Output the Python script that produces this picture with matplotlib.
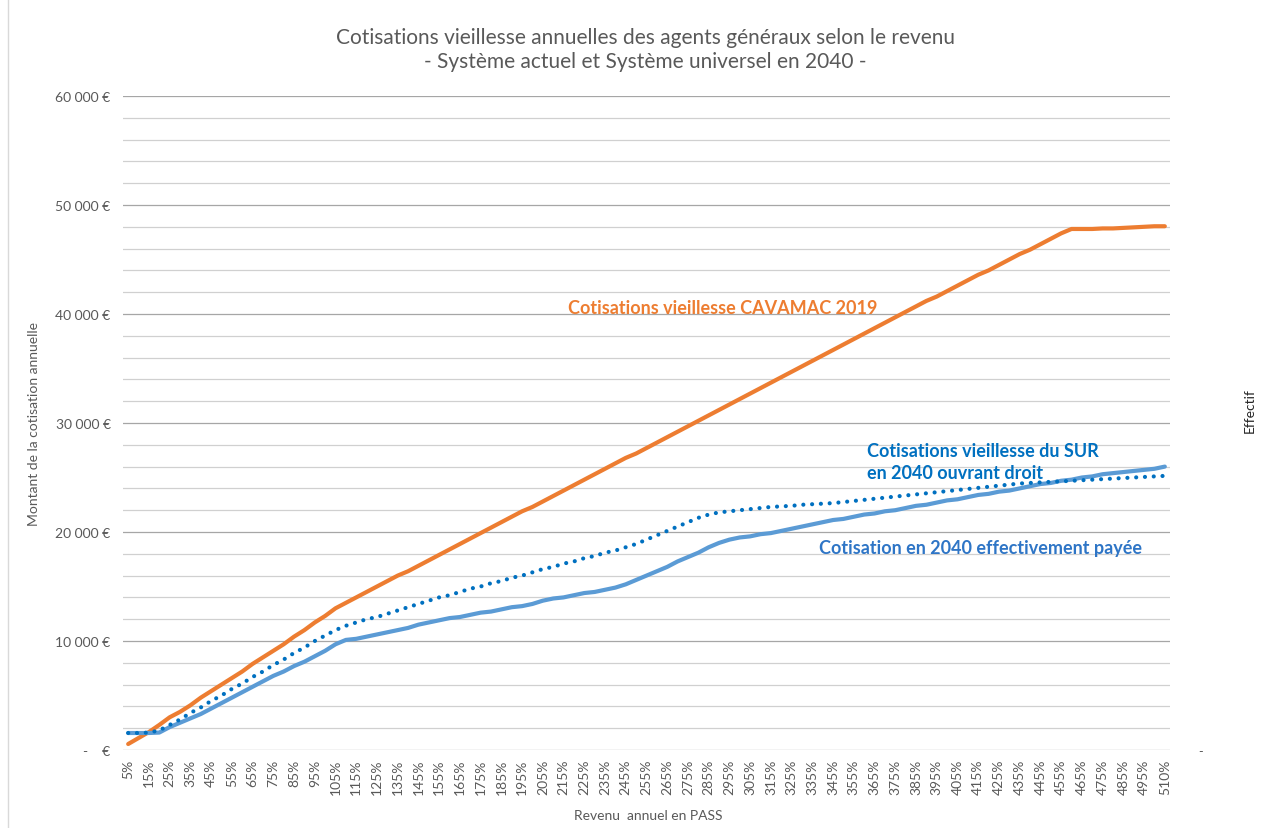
import numpy as np
import matplotlib.pyplot as plt
from matplotlib.ticker import MultipleLocator, FixedLocator

plt.rcParams['font.family'] = ['Lato', 'DejaVu Sans']

# Revenu annuel en % du PASS : 5 % .. 500 % par pas de 5, puis 510 %
revenu_pct = list(range(5, 505, 5)) + [510]

cavamac_2019 = [
    550, 1100, 1650, 2300, 3000, 3500, 4100, 4800, 5400, 6000,
    6600, 7200, 7900, 8500, 9100, 9700, 10400, 11000, 11700, 12300,
    13000, 13500, 14000, 14500, 15000, 15500, 16000, 16400, 16900, 17400,
    17900, 18400, 18900, 19400, 19900, 20400, 20900, 21400, 21900, 22300,
    22800, 23300, 23800, 24300, 24800, 25300, 25800, 26300, 26800, 27200,
    27700, 28200, 28700, 29200, 29700, 30200, 30700, 31200, 31700, 32200,
    32700, 33200, 33700, 34200, 34700, 35200, 35700, 36200, 36700, 37200,
    37700, 38200, 38700, 39200, 39700, 40200, 40700, 41200, 41600, 42100,
    42600, 43100, 43600, 44000, 44500, 45000, 45500, 45900, 46400, 46900,
    47400, 47800, 47800, 47800, 47850, 47850, 47900, 47950, 48000, 48050,
    48050,
]

sur_ouvrant_droit = [
    1560, 1560, 1600, 1800, 2300, 2800, 3400, 3900, 4500, 5000,
    5600, 6100, 6700, 7200, 7800, 8300, 8900, 9400, 10000, 10500,
    11000, 11400, 11700, 12000, 12200, 12500, 12800, 13100, 13400, 13700,
    14000, 14200, 14500, 14800, 15000, 15300, 15500, 15800, 16000, 16300,
    16600, 16800, 17100, 17300, 17600, 17800, 18100, 18300, 18600, 18900,
    19300, 19700, 20100, 20500, 20900, 21300, 21600, 21800, 21900, 22000,
    22100, 22200, 22300, 22350, 22400, 22500, 22550, 22600, 22650, 22750,
    22850, 22950, 23050, 23150, 23250, 23350, 23450, 23550, 23650, 23750,
    23850, 23950, 24050, 24150, 24250, 24350, 24450, 24500, 24550, 24600,
    24650, 24700, 24750, 24800, 24850, 24900, 24950, 25000, 25050, 25100,
    25150,
]

sur_paye = [
    1560, 1560, 1560, 1600, 2100, 2500, 2900, 3300, 3800, 4300,
    4800, 5300, 5800, 6300, 6800, 7200, 7700, 8100, 8600, 9100,
    9700, 10100, 10200, 10400, 10600, 10800, 11000, 11200, 11500, 11700,
    11900, 12100, 12200, 12400, 12600, 12700, 12900, 13100, 13200, 13400,
    13700, 13900, 14000, 14200, 14400, 14500, 14700, 14900, 15200, 15600,
    16000, 16400, 16800, 17300, 17700, 18100, 18600, 19000, 19300, 19500,
    19600, 19800, 19900, 20100, 20300, 20500, 20700, 20900, 21100, 21200,
    21400, 21600, 21700, 21900, 22000, 22200, 22400, 22500, 22700, 22900,
    23000, 23200, 23400, 23500, 23700, 23800, 24000, 24200, 24400, 24500,
    24700, 24800, 25000, 25100, 25300, 25400, 25500, 25600, 25700, 25800,
    26000,
]

ORANGE = '#ED7D31'
LIGHT_BLUE = '#5B9BD5'
DARK_BLUE = '#0070C0'
GREY_TXT = '#595959'

W, H = 1264, 829
fig = plt.figure(figsize=(W / 100, H / 100), dpi=100)
fig.patch.set_facecolor('white')
ax = fig.add_axes([123 / W, 1 - 751 / H, (1170 - 123) / W, (751 - 97) / H])

x = np.arange(len(revenu_pct))
ax.plot(x, cavamac_2019, color=ORANGE, lw=3, solid_capstyle='round', zorder=3)
ax.plot(x, sur_paye, color=LIGHT_BLUE, lw=3, solid_capstyle='round', zorder=3)
ax.plot(x, sur_ouvrant_droit, color=DARK_BLUE, lw=3,
        linestyle=(0, (0.01, 2.1)), dash_capstyle='round', zorder=4)

ax.set_xlim(-0.5, len(revenu_pct) - 0.5)
ax.set_ylim(0, 60000)

# grille : traits principaux tous les 10 000, secondaires tous les 2 000
ax.yaxis.set_major_locator(MultipleLocator(10000))
ax.yaxis.set_minor_locator(MultipleLocator(2000))
ax.grid(which='major', axis='y', color='#A6A6A6', lw=0.9)
ax.grid(which='minor', axis='y', color='#D0D0D0', lw=0.9)
ax.set_axisbelow(True)
for s in ax.spines.values():
    s.set_visible(False)

def euro(v):
    if v == 0:
        return '-    €'
    return f"{int(v):,} €".replace(',', ' ')

yt = np.arange(0, 60001, 10000)
ax.set_yticks(yt)
ax.set_yticklabels([euro(v) for v in yt])
ax.tick_params(axis='y', which='both', length=0, pad=9, labelsize=10, labelcolor=GREY_TXT)

xt = x[::2]
ax.xaxis.set_major_locator(FixedLocator(xt))
ax.set_xticklabels([f"{revenu_pct[i]}%" for i in xt], rotation=90, va='top', ha='center')
ax.tick_params(axis='x', length=0, pad=6, labelsize=10, labelcolor=GREY_TXT)

ax.set_ylabel('Montant de la cotisation annuelle', fontsize=10, color=GREY_TXT)
ax.yaxis.set_label_coords((40 - 123) / (1170 - 123), 0.5)
ax.set_xlabel('Revenu  annuel en PASS', fontsize=10, color=GREY_TXT)
ax.xaxis.set_label_coords((648 - 123) / (1170 - 123), -(810 - 751) / (751 - 97))

# axe secondaire (effectif) sans données
ax2 = ax.twinx()
ax2.set_ylim(0, 1)
ax2.set_yticks([0])
ax2.set_yticklabels(['-'])
ax2.tick_params(axis='y', length=0, pad=20, labelsize=9, labelcolor=GREY_TXT)
for s in ax2.spines.values():
    s.set_visible(False)
ax2.set_ylabel('Effectif', fontsize=10, color='#262626')
ax2.yaxis.set_label_coords((1244 - 123) / (1170 - 123), 0.52)

# étiquettes des séries
ax.text(0.5726, 0.677, 'Cotisations vieillesse CAVAMAC 2019', transform=ax.transAxes,
        color=ORANGE, fontsize=13, fontweight='bold', ha='center', va='center')
ax.text(0.711, 0.441, 'Cotisations vieillesse du SUR\nen 2040 ouvrant droit',
        transform=ax.transAxes, color=DARK_BLUE, fontsize=13, fontweight='bold',
        ha='left', va='center', linespacing=1.3)
ax.text(0.819, 0.309, 'Cotisation en 2040 effectivement payée', transform=ax.transAxes,
        color='#2E75C6', fontsize=13, fontweight='bold', ha='center', va='center')

fig.text(645 / W, 1 - 50 / H,
         'Cotisations vieillesse annuelles des agents généraux selon le revenu\n'
         '- Système actuel et Système universel en 2040 -',
         ha='center', va='center', fontsize=15, color=GREY_TXT, linespacing=1.2)

# bord du cadre du graphique
fig.add_artist(plt.Line2D([8 / W, 8 / W], [0, 1], color='#D9D9D9', lw=1))

fig.savefig('out.png', dpi=100, facecolor='white')
